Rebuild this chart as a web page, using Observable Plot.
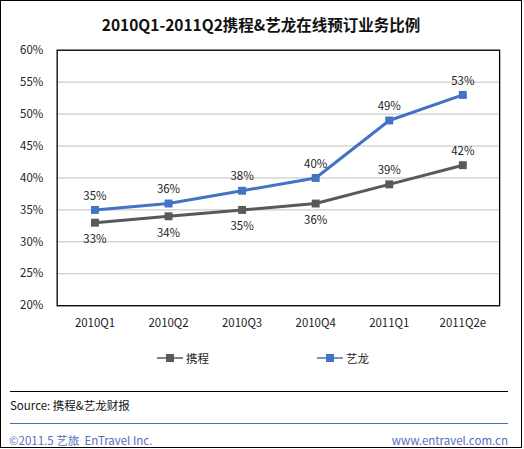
<!DOCTYPE html>
<html><head><meta charset="utf-8">
<script src="https://cdn.jsdelivr.net/npm/d3@7"></script>
<script src="https://cdn.jsdelivr.net/npm/@observablehq/plot@0.6"></script>
<style>
body{margin:0;background:#fff;font-family:"Noto Sans CJK SC","Noto Sans",sans-serif;}
#wrap{position:relative;width:520px;height:446px;border:1px solid #000;background:#fff;overflow:hidden;}
.abs{position:absolute;white-space:nowrap;}
</style></head>
<body><div id="wrap">
<div class="abs" id="title" style="left:0;width:520px;top:12px;text-align:center;font-weight:bold;font-size:15.5px;color:#111;">2010Q1-2011Q2携程&amp;艺龙在线预订业务比例</div>
<div id="chart" class="abs" style="left:-1px;top:-1px;"></div>
<div class="abs" style="left:9px;top:390px;width:498px;height:0;border-top:1.5px solid #000;"></div>
<div class="abs" style="left:9px;top:396px;font-size:11.5px;color:#111;">Source: 携程&amp;艺龙财报</div>
<div class="abs" style="left:9px;top:422px;width:498px;height:0;border-top:1px solid #4a6fbd;"></div>
<div class="abs" style="left:8px;top:431px;font-size:11.5px;color:#5a6ec0;">©2011.5 艺旅 &nbsp;EnTravel Inc.</div>
<div class="abs" style="right:13px;top:431px;font-size:11.5px;color:#5a6ec0;">www.entravel.com.cn</div>
</div>
<script>
const quarters = ["2010Q1","2010Q2","2010Q3","2010Q4","2011Q1","2011Q2e"];
const ctrip = [33,34,35,36,39,42];
const elong = [35,36,38,40,49,53];
const seriesNames = ["携程","艺龙"];
const seriesColors = ["#595959","#4472C4"];
const yTicks = [20,25,30,35,40,45,50,55,60];
// label placement: -1 below, 1 above
const ctripLabelPos = [-1,-1,-1,-1,1,1];
const elongLabelPos = [1,1,1,1,1,1];

const data = [];
quarters.forEach((q,i)=>{
  data.push({q, v:ctrip[i], s:seriesNames[0], pos:ctripLabelPos[i]});
  data.push({q, v:elong[i], s:seriesNames[1], pos:elongLabelPos[i]});
});
const above = data.filter(d=>d.pos>0), below = data.filter(d=>d.pos<0);

const chart = Plot.plot({
  width: 524, height: 345,
  marginTop: 50, marginBottom: 38, marginLeft: 57, marginRight: 22,
  style:{fontFamily:'"Noto Sans CJK SC","Noto Sans",sans-serif', fontSize:"11px", color:"#222", background:"transparent"},
  x:{type:"point", domain:quarters, padding:0.5, label:null},
  y:{domain:[20,60], ticks:yTicks, label:null},
  color:{domain:seriesNames, range:seriesColors},
  marks:[
    Plot.gridY(yTicks, {stroke:"#bfbfbf", strokeOpacity:1, strokeWidth:1}),
    Plot.frame({stroke:"#000", strokeWidth:1.3}),
    Plot.axisY(yTicks, {tickSize:0, tickPadding:14, tickFormat:d=>d+"%", fontSize:11.5}),
    Plot.axisX({tickSize:0, tickPadding:13, fontSize:11.5}),
    Plot.line(data, {x:"q", y:"v", z:"s", stroke:"s", strokeWidth:3}),
    Plot.dot(data, {x:"q", y:"v", fill:"s", symbol:"square", r:4.5}),
    Plot.text(above, {x:"q", y:"v", text:d=>d.v+"%", dy:-14, fill:"#222", fontSize:11.5}),
    Plot.text(below, {x:"q", y:"v", text:d=>d.v+"%", dy:17, fill:"#222", fontSize:11.5})
  ]
});
document.getElementById("chart").appendChild(chart);

// legend built from the series arrays
const wrap = document.getElementById("wrap");
const legendX = [157, 317];
seriesNames.forEach((name,i)=>{
  const el = document.createElement("div");
  el.className = "abs";
  el.style.cssText = `left:${legendX[i]-1}px;top:349px;font-size:11.5px;color:#222;display:flex;align-items:center;`;
  el.innerHTML = `<svg width="26" height="10" style="margin-right:3px"><line x1="0" y1="5" x2="26" y2="5" stroke="${seriesColors[i]}" stroke-width="1.5"/><rect x="9" y="1" width="8" height="8" fill="${seriesColors[i]}"/></svg><span>${name}</span>`;
  wrap.appendChild(el);
});
</script>
</body></html>
